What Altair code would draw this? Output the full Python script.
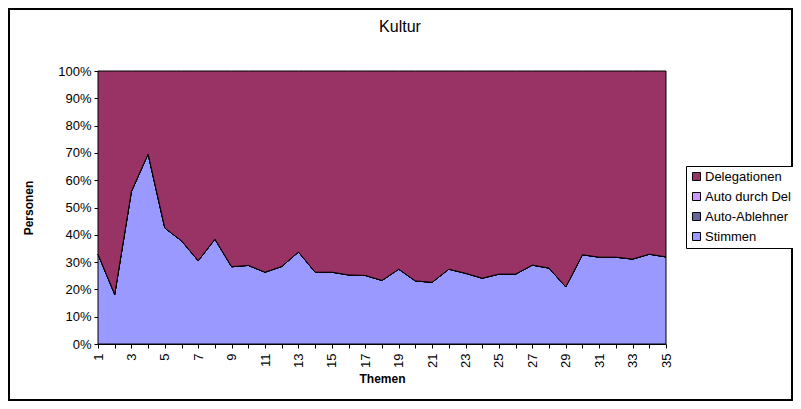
import altair as alt
import pandas as pd

themen = list(range(1, 36))
stimmen = [32.9, 18.2, 55.9, 69.6, 42.5, 37.8, 30.5, 38.4, 28.3, 28.8,
           26.3, 28.4, 33.7, 26.3, 26.3, 25.3, 25.1, 23.3, 27.4, 23.1,
           22.6, 27.4, 25.9, 24.1, 25.6, 25.6, 28.9, 27.8, 20.9, 32.7,
           31.8, 31.8, 31.1, 32.9, 31.9]
auto_ablehner = [0.0] * 35
auto_durch_del = [0.0] * 35
delegationen = [round(100 - s, 1) for s in stimmen]

series_names = ["Delegationen", "Auto durch Del", "Auto-Ablehner", "Stimmen"]
series_colors = ["#993366", "#CC99FF", "#666699", "#9999FF"]
stack_order = {"Stimmen": 0, "Auto-Ablehner": 1, "Auto durch Del": 2, "Delegationen": 3}
chart_title = "Kultur"

rows = []
for name, vals in [("Stimmen", stimmen), ("Auto-Ablehner", auto_ablehner),
                   ("Auto durch Del", auto_durch_del), ("Delegationen", delegationen)]:
    for t, v in zip(themen, vals):
        rows.append({"Thema": t, "Serie": name, "Wert": v, "ord": stack_order[name]})
df = pd.DataFrame(rows)

FONT = "Liberation Sans"
W, H = 568, 273
PAD = {"left": 90, "top": 63, "right": 127, "bottom": 57}

area = alt.Chart(df).mark_area(stroke="black", strokeWidth=1, opacity=1).encode(
    x=alt.X("Thema:Q", scale=alt.Scale(domain=[1, 35], nice=False, zero=False),
            axis=alt.Axis(title="Themen", values=themen, labelAngle=270,
                          labelAlign="right", labelBaseline="middle",
                          labelExpr="datum.value % 2 == 1 ? datum.label : ''",
                          labelOverlap=False, labelFlush=False, labelPadding=5,
                          tickSize=4, grid=False, domainColor="black", tickColor="black",
                          titlePadding=6, titleFontWeight="bold", titleFontSize=12)),
    y=alt.Y("Wert:Q", stack="normalize", scale=alt.Scale(domain=[0, 1], nice=False),
            axis=alt.Axis(title="Personen", format=".0%",
                          values=[i / 10 for i in range(11)], tickSize=4, labelPadding=3,
                          grid=False, domainColor="black", tickColor="black",
                          titlePadding=22, titleFontWeight="bold", titleFontSize=12)),
    color=alt.Color("Serie:N",
                    scale=alt.Scale(domain=series_names, range=series_colors),
                    sort=series_names,
                    legend=alt.Legend(title=None, orient="none", legendX=588, legendY=95,
                                      symbolType="square", symbolSize=64,
                                      symbolStrokeColor="black", symbolStrokeWidth=1,
                                      symbolOpacity=1,
                                      labelFontSize=13, labelFont=FONT, labelOffset=2,
                                      labelLimit=200,
                                      rowPadding=6, padding=4,
                                      strokeColor="black", fillColor="white")),
    order=alt.Order("ord:Q"),
)

title_text = alt.Chart(pd.DataFrame({"t": [chart_title]})).mark_text(
    font=FONT, fontSize=16, color="black", align="center", baseline="middle"
).encode(x=alt.value(302), y=alt.value(-44), text="t:N")

border = alt.Chart(pd.DataFrame({"a": [0]})).mark_rect(
    fill=None, stroke="black", strokeWidth=2
).encode(
    x=alt.value(-PAD["left"] + 1), x2=alt.value(W + PAD["right"] - 1),
    y=alt.value(-PAD["top"] + 1), y2=alt.value(H + PAD["bottom"] - 1),
)

chart = alt.layer(area, title_text, border).properties(
    width=W, height=H,
    autosize=alt.AutoSizeParams(type="none"),
    padding=PAD,
    background="white",
).configure_view(stroke=None).configure_axis(
    labelFont=FONT, titleFont=FONT, labelFontSize=13, labelColor="black", titleColor="black"
)

chart.save("out.html", embed_options={"renderer": "svg", "actions": False})
